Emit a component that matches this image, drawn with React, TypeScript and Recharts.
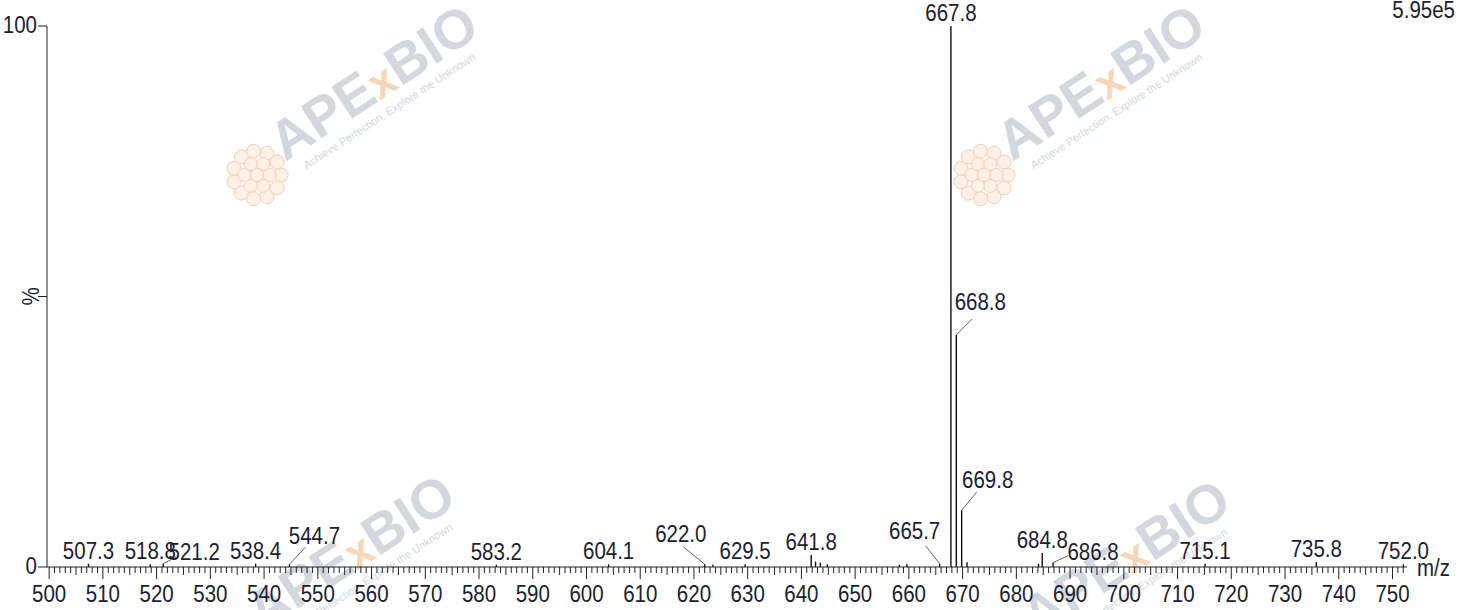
import React from "react";
import { BarChart, Bar, XAxis, YAxis } from "recharts";

// peak list (m/z) and relative intensity (%)
const peakMz = [
    507.3, 518.8, 521.2, 538.4, 544.7, 583.2, 604.1, 622.0, 623.5, 629.5,
    641.8, 642.6, 643.5, 644.8, 658.2, 659.6, 665.7, 667.8, 668.8, 669.8,
    670.8, 684.1, 684.8, 686.8, 715.1, 735.8, 752.0,
];
const peakIntensity = [
    0.6, 0.5, 0.6, 0.6, 0.5, 0.4, 0.5, 0.5, 0.4, 0.5,
    2.2, 1.0, 0.8, 0.5, 0.4, 0.5, 0.6, 100, 42.9, 10.5,
    0.9, 0.6, 2.6, 0.8, 0.6, 0.9, 0.5,
];
const labeledPeaks = [
    "507.3", "518.8", "521.2", "538.4", "544.7", "583.2", "604.1", "622.0",
    "629.5", "641.8", "665.7", "667.8", "668.8", "669.8", "684.8", "686.8",
    "715.1", "735.8", "752.0",
];
const yTicks = [0, 50, 100];
const baseIntensity = "5.95e5";
const xUnit = "m/z";

const xTicks = Array.from({ length: 253 }, (_, i) => 500 + i);

const spectrum = peakMz.map((mz, i) => ({
    mz,
    intensity: peakIntensity[i],
    label: labeledPeaks.includes(mz.toFixed(1)) ? mz.toFixed(1) : null,
}));

// labels that are pushed aside and tied to their peak with a leader line
const leaders: Record<string, { dx: number; dy: number; lx: number; ly: number }> = {
    "521.2": { dx: 31, dy: 4, lx: 13, ly: 7 },
    "544.7": { dx: 25, dy: 20, lx: 16, ly: 17 },
    "622.0": { dx: -24, dy: 22, lx: -21, ly: 17 },
    "665.7": { dx: -25, dy: 25, lx: -14, ly: 18 },
    "668.8": { dx: 24, dy: 25, lx: 16, ly: 16 },
    "669.8": { dx: 26, dy: 22, lx: 15, ly: 18 },
    "686.8": { dx: 40, dy: 3, lx: 15, ly: 7 },
};

const FONT = "Arial, 'Liberation Sans', sans-serif";
const INK = "#1b2130";

const Txt = ({ x, y, anchor = "middle", children }: any) => (
    <text
        transform={`translate(${x},${y}) scale(1,1.2)`}
        textAnchor={anchor}
        fontSize={20.5}
        fontFamily={FONT}
        fill={INK}
    >
        {children}
    </text>
);

const PeakShape = (props: any) => {
    const { x, y, width, height, payload } = props;
    const cx = x + width / 2;
    const base = y + height;
    const label = payload.label;
    const lead = label ? leaders[label] : null;
    return (
        <g>
            <line x1={cx} x2={cx} y1={y} y2={base} stroke="#111" strokeWidth={1.4} />
            {label && !lead && <Txt x={cx} y={y - 5}>{label}</Txt>}
            {lead && (
                <>
                    <line x1={cx} y1={y} x2={cx + lead.lx} y2={y - lead.ly} stroke="#666" strokeWidth={1} />
                    <Txt x={cx + lead.dx} y={y - lead.dy}>{label}</Txt>
                </>
            )}
        </g>
    );
};

const XTick = ({ x, y, payload }: any) => {
    const v = payload.value;
    const len = v % 10 === 0 ? 12 : v % 5 === 0 ? 8 : 6;
    return (
        <g>
            <line x1={x} x2={x} y1={y} y2={y + len} stroke="#222" strokeWidth={1} />
            {v % 10 === 0 && <Txt x={x} y={y + 35}>{v}</Txt>}
        </g>
    );
};

const YTick = ({ x, y, payload }: any) => {
    const v = payload.value;
    return (
        <g>
            <line x1={x - 9} x2={x} y1={y} y2={y} stroke="#222" strokeWidth={1} />
            {v === 50 ? (
                <text
                    transform={`translate(${x - 8},${y}) rotate(-90) scale(1,1.2)`}
                    textAnchor="middle"
                    fontSize={20.5}
                    fontFamily={FONT}
                    fill={INK}
                >
                    %
                </text>
            ) : (
                <Txt x={x - 10} y={y + 7} anchor="end">{v}</Txt>
            )}
        </g>
    );
};

const Flower = ({ x, y }: { x: number; y: number }) => {
    const ring = (r: number, n: number, size: number) =>
        Array.from({ length: n }, (_, i) => {
            const a = (i / n) * Math.PI * 2;
            return <circle key={`${r}-${i}`} cx={x + r * Math.cos(a)} cy={y + r * Math.sin(a)} r={size} />;
        });
    return (
        <g fill="#fdf0e6" stroke="#f4cfb3" strokeWidth={1}>
            {ring(24, 11, 7)}
            {ring(12.5, 6, 6.5)}
            <circle cx={x} cy={y} r={6.5} />
        </g>
    );
};

const Logo = ({ x, y }: { x: number; y: number }) => (
    <g>
        <Flower x={x - 28} y={y + 13} />
        <g transform={`translate(${x},${y}) rotate(-33)`}>
            <text fontSize={55} fontWeight="bold" fontFamily={FONT} fill="#d3d8de">
                APE<tspan fill="#f7d6b8" fontSize={44}>x</tspan>BIO
            </text>
            <text x={14} y={18} fontSize={11} fontFamily={FONT} fill="#d3d8de">
                Achieve Perfection, Explore the Unknown
            </text>
        </g>
    </g>
);

export default function App() {
    return (
        <div style={{ position: "absolute", left: 0, top: 0, width: 1467, height: 610, background: "#fff", overflow: "hidden" }}>
            {/* watermarks */}
            <svg width={1467} height={610} style={{ position: "absolute", left: 0, top: 0 }}>
                <Logo x={285} y={162} />
                <Logo x={1012} y={162} />
                <Logo x={262} y={632} />
                <Logo x={1037} y={637} />
            </svg>

            <div style={{ position: "absolute", left: 0, top: 0 }}>
                <BarChart
                    width={1467}
                    height={610}
                    data={spectrum}
                    margin={{ top: 26, right: 60, bottom: 0, left: 0 }}
                    barSize={2}
                >
                    <XAxis
                        dataKey="mz"
                        type="number"
                        domain={[499.6, 752.7]}
                        ticks={xTicks}
                        interval={0}
                        tick={<XTick />}
                        tickLine={false}
                        tickSize={0}
                        tickMargin={0}
                        height={43}
                        axisLine={{ stroke: "#222", strokeWidth: 1 }}
                    />
                    <YAxis
                        type="number"
                        domain={[0, 100]}
                        ticks={yTicks}
                        interval={0}
                        width={47}
                        tick={<YTick />}
                        tickLine={false}
                        tickSize={0}
                        tickMargin={0}
                        axisLine={{ stroke: "#222", strokeWidth: 1 }}
                    />
                    <Bar dataKey="intensity" shape={<PeakShape />} isAnimationActive={false} />
                </BarChart>
            </div>

            <svg width={1467} height={610} style={{ position: "absolute", left: 0, top: 0, pointerEvents: "none" }}>
                <Txt x={1455} y={18} anchor="end">{baseIntensity}</Txt>
                <Txt x={1417} y={576} anchor="start">{xUnit}</Txt>
            </svg>
        </div>
    );
}
